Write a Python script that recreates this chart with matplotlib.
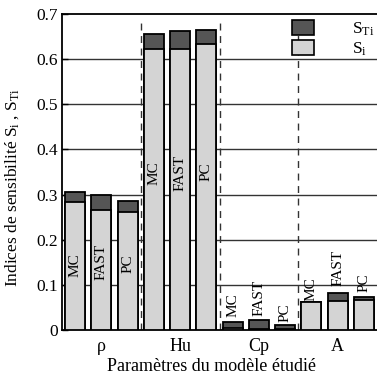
import matplotlib
matplotlib.use("Agg")
import matplotlib.pyplot as plt
from matplotlib.patches import Patch
import numpy as np

plt.rcParams['font.family'] = ['Liberation Serif', 'DejaVu Serif']
plt.rcParams['mathtext.fontset'] = 'custom'
plt.rcParams['mathtext.rm'] = 'Liberation Serif'
plt.rcParams['mathtext.it'] = 'Liberation Serif'

params = ['ρ', 'Hu', 'Cp', 'A']
methods = ['MC', 'FAST', 'PC']
# first-order indices Si and total indices STi, per parameter, per method
Si = [[0.284, 0.266, 0.262],
      [0.622, 0.622, 0.633],
      [0.004, 0.002, 0.002],
      [0.061, 0.065, 0.067]]
STi = [[0.305, 0.300, 0.286],
       [0.655, 0.663, 0.665],
       [0.017, 0.0215, 0.010],
       [0.061, 0.083, 0.072]]
# vertical position of method labels
label_y = [[0.144, 0.150, 0.146],
           [0.348, 0.348, 0.350],
           [0.055, 0.072, 0.039],
           [0.091, 0.137, 0.105]]
yticks = [0, 0.1, 0.2, 0.3, 0.4, 0.5, 0.6, 0.7]
ytick_labels = ['0', '0.1', '0.2', '0.3', '0.4', '0.5', '0.6', '0.7']

dark = '#555555'
light = '#d4d4d4'

fig = plt.figure(figsize=(3.77, 3.74), dpi=100)
ax = fig.add_axes([62/377, 1-330/374, 1-62/377, (330-14)/374])

nm = len(methods)
for g in range(len(params)):
    for m in range(nm):
        x = g*nm + m
        ax.bar(x, STi[g][m], width=0.76, color=dark, edgecolor='black', linewidth=1.3, zorder=3)
        ax.bar(x, Si[g][m], width=0.76, color=light, edgecolor='black', linewidth=1.3, zorder=4)
        ax.text(x, label_y[g][m], methods[m], rotation=90, ha='center', va='center',
                fontsize=11, zorder=5)

for g in range(1, len(params)):
    ax.axvline(g*nm - 0.5, ymin=0, ymax=0.975, color='#333333', linestyle=(0, (5, 4)),
               linewidth=1.0, zorder=2)

for yv in yticks[1:-1]:
    ax.axhline(yv, color='#333333', linewidth=1.0, zorder=1)

ax.set_xlim(-0.5, 11.5)
ax.set_ylim(0, 0.7)
ax.set_yticks(yticks)
ax.set_yticklabels(ytick_labels, fontsize=12.5)
ax.set_xticks([g*nm + 1 for g in range(len(params))])
ax.set_xticklabels(params, fontsize=13)
ax.tick_params(axis='x', length=0, pad=6)
ax.tick_params(axis='y', direction='in', length=4, width=1, pad=3)
ax.spines['right'].set_visible(False)
for s in ['left', 'top', 'bottom']:
    ax.spines[s].set_linewidth(1.3)

ax.set_xlabel('Paramètres du modèle étudié', fontsize=13)
ax.xaxis.set_label_coords(0.475, -0.088)
ax.set_ylabel('Indices de sensibilité S$_\\mathrm{i}$ , S$_\\mathrm{Ti}$', fontsize=12.5)
ax.yaxis.set_label_coords(-0.13, 0.45)

handles = [Patch(facecolor=dark, edgecolor='black', linewidth=1.2),
           Patch(facecolor=light, edgecolor='black', linewidth=1.2)]
leg = ax.legend(handles, ['S$_\\mathrm{Ti}$', 'S$_\\mathrm{i}$'], loc='upper right',
                bbox_to_anchor=(1.03, 1.02), frameon=False, fontsize=12.5,
                handlelength=1.25, handleheight=0.95, handletextpad=2.2,
                labelspacing=0.15, borderaxespad=0.3)
leg.set_zorder(6)

fig.savefig('out.png', dpi=100)
